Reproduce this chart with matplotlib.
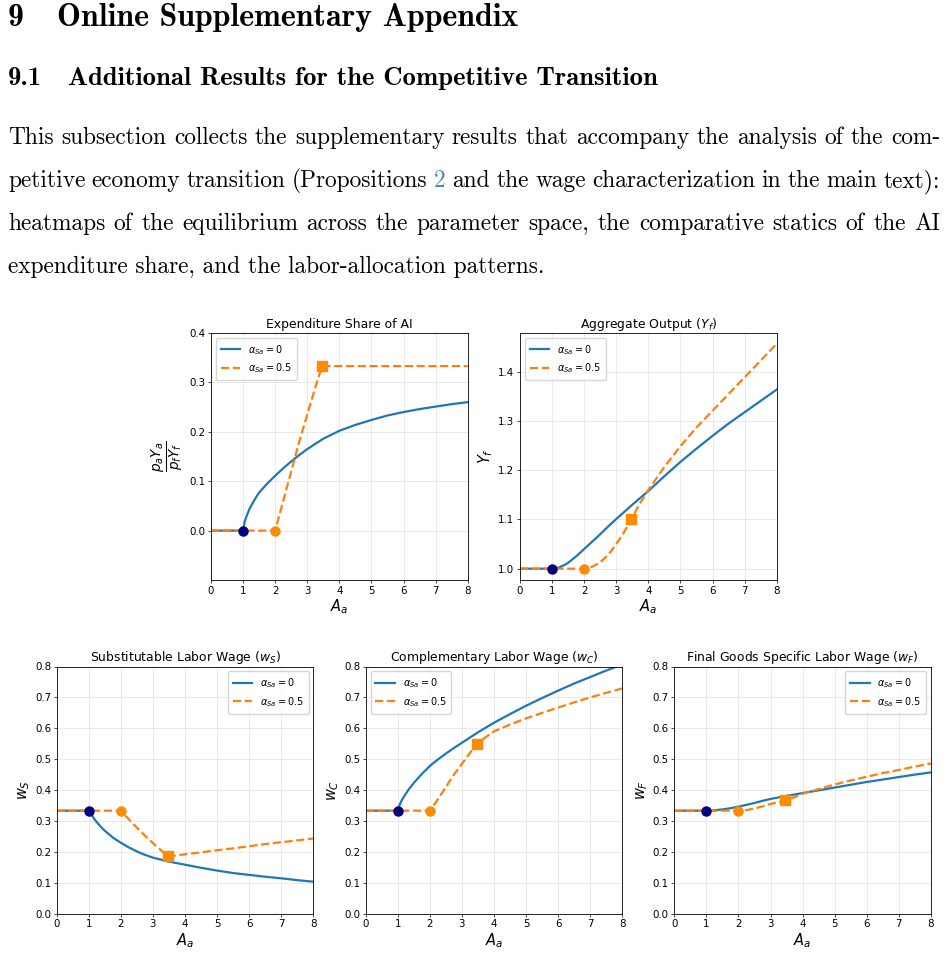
import matplotlib
matplotlib.use("Agg")
import matplotlib.pyplot as plt

# ---------------------------------------------------------------
# Data (A_a on the x axis)
# ---------------------------------------------------------------
A_0 = [0, 0.5, 1, 1.05, 1.1, 1.2, 1.3, 1.4, 1.5, 1.75, 2, 2.25, 2.5, 2.75, 3, 3.5, 4,
       4.5, 5, 5.5, 6, 6.5, 7, 7.5, 8]
A_5 = [0, 0.5, 1, 1.5, 2, 2.25, 2.5, 2.75, 3, 3.25, 3.46, 3.75, 4, 4.5, 5, 5.5, 6,
       6.5, 7, 7.5, 8]

# expenditure share of AI
share_0 = [0, 0, 0, 0.018, 0.028, 0.044, 0.056, 0.067, 0.077, 0.095, 0.111, 0.126,
           0.140, 0.153, 0.165, 0.186, 0.202, 0.214, 0.224, 0.233, 0.240, 0.246, 0.251,
           0.256, 0.260]
share_5 = [0, 0, 0, 0, 0, 0.06, 0.12, 0.18, 0.235, 0.29, 0.333, 0.333, 0.333, 0.333,
           0.333, 0.333, 0.333, 0.333, 0.333, 0.333, 0.333]

# aggregate output
yf_0 = [1.0, 1.0, 1.0, 1.0, 1.0005, 1.002, 1.005, 1.008, 1.012, 1.025, 1.04, 1.055,
        1.07, 1.086, 1.101, 1.13, 1.158, 1.188, 1.217, 1.244, 1.27, 1.295, 1.318,
        1.341, 1.364]
yf_5 = [1.0, 1.0, 1.0, 1.0, 1.0, 1.004, 1.013, 1.028, 1.05, 1.075, 1.10, 1.134, 1.16,
        1.207, 1.249, 1.287, 1.321, 1.355, 1.389, 1.423, 1.457]

# substitutable labor wage
ws_0 = [0.333, 0.333, 0.333, 0.325, 0.317, 0.302, 0.29, 0.278, 0.268, 0.246, 0.229,
        0.214, 0.201, 0.19, 0.181, 0.168, 0.158, 0.148, 0.139, 0.131, 0.125, 0.119,
        0.114, 0.108, 0.103]
ws_5 = [0.333, 0.333, 0.333, 0.333, 0.333, 0.305, 0.278, 0.252, 0.228, 0.205, 0.185,
        0.188, 0.192, 0.198, 0.205, 0.211, 0.218, 0.225, 0.231, 0.237, 0.243]

# complementary labor wage
wc_0 = [0.333, 0.333, 0.333, 0.35, 0.362, 0.38, 0.396, 0.41, 0.423, 0.452, 0.478,
        0.499, 0.518, 0.536, 0.553, 0.587, 0.618, 0.646, 0.673, 0.698, 0.722, 0.745,
        0.766, 0.787, 0.807]
wc_5 = [0.333, 0.333, 0.333, 0.333, 0.333, 0.37, 0.41, 0.45, 0.485, 0.52, 0.55, 0.572,
        0.59, 0.612, 0.632, 0.65, 0.667, 0.684, 0.70, 0.715, 0.729]

# final goods specific labor wage
wf_0 = [0.333, 0.333, 0.333, 0.333, 0.3335, 0.334, 0.335, 0.336, 0.337, 0.341, 0.346,
        0.352, 0.358, 0.365, 0.371, 0.381, 0.39, 0.399, 0.408, 0.417, 0.426, 0.434,
        0.442, 0.45, 0.457]
wf_5 = [0.333, 0.333, 0.333, 0.333, 0.333, 0.335, 0.34, 0.347, 0.355, 0.36, 0.366,
        0.377, 0.388, 0.403, 0.418, 0.431, 0.443, 0.455, 0.465, 0.476, 0.486]

# threshold points marked on the curves
A_bar_0 = 1
A_low_5 = 2
A_high_5 = 3.46

x_ticks = [0, 1, 2, 3, 4, 5, 6, 7, 8]
wage_ticks = [0.0, 0.1, 0.2, 0.3, 0.4, 0.5, 0.6, 0.7, 0.8]

# ---------------------------------------------------------------
# Page text
# ---------------------------------------------------------------
heading_1 = "Online Supplementary Appendix"
heading_2 = "Additional Results for the Competitive Transition"
para_lines = [
    "This subsection collects the supplementary results that accompany the analysis of the com-",
    "petitive economy transition (Propositions 2 and the wage characterization in the main text):",
    "heatmaps of the equilibrium across the parameter space, the comparative statics of the AI",
    "expenditure share, and the labor-allocation patterns.",
]

W, H = 947, 956
fig = plt.figure(figsize=(W / 100, H / 100), dpi=100)
rend = fig.canvas.get_renderer()

C_BLUE = "#1f77b4"
C_ORANGE = "#ff7f0e"
C_LINK = "#4a86b8"


def fy(px):                       # pixel row -> figure fraction
    return 1 - px / H


def text_width(s, family, size):
    t = fig.text(0, 0, s, fontsize=size, family=family)
    w = t.get_window_extent(rend).width
    t.remove()
    return w


def fit_size(s, family, target):
    return 10 * target / text_width(s, family, 10)


def justify(line, y, size, x0=8, x1=940):
    words = line.split(" ")
    texts = []
    for w in words:
        col = C_LINK if w == "2" else "black"
        texts.append(fig.text(0, fy(y), w, fontsize=size, family="cmr10",
                              color=col, va="baseline"))
    widths = [t.get_window_extent(rend).width for t in texts]
    gap = (x1 - x0 - sum(widths)) / (len(words) - 1)
    x = x0
    for t, w in zip(texts, widths):
        t.set_x(x / W)
        x += w + gap


# headings
s1 = fit_size(heading_1, "cmb10", 461)
fig.text(8 / W, fy(26), "9", fontsize=s1, family="cmb10", va="baseline")
fig.text(57 / W, fy(26), heading_1, fontsize=s1, family="cmb10", va="baseline")
s2 = fit_size(heading_2, "cmb10", 589)
fig.text(8 / W, fy(85), "9.1", fontsize=s2, family="cmb10", va="baseline")
fig.text(68 / W, fy(85), heading_2, fontsize=s2, family="cmb10", va="baseline")

# paragraph
sp = fit_size(para_lines[3], "cmr10", 539)
baselines = [144, 187, 230, 273]
for i, line in enumerate(para_lines):
    if i < 3:
        justify(line, baselines[i], sp)
    else:
        fig.text(8 / W, fy(baselines[i]), line, fontsize=sp, family="cmr10", va="baseline")


# ---------------------------------------------------------------
# Plots
# ---------------------------------------------------------------
def make_ax(left, top, width=256.7, height=247):
    return fig.add_axes([left / W, fy(top + height), width / W, height / H])


def panel(ax, y0, y5, title, ylabel, loc, ylab_size=10.5):
    ax.plot(A_0, y0, color=C_BLUE, lw=1.6, label=r"$\alpha_{Sa}=0$")
    ax.plot(A_5, y5, color=C_ORANGE, lw=1.6, ls="--", label=r"$\alpha_{Sa}=0.5$")
    ax.plot(A_bar_0, y0[A_0.index(A_bar_0)], "o", color="navy", ms=6.5, zorder=5)
    ax.plot(A_low_5, y5[A_5.index(A_low_5)], "o", color="darkorange", ms=6.5, zorder=5)
    ax.plot(A_high_5, y5[A_5.index(A_high_5)], "s", color="darkorange", ms=7, zorder=5)
    ax.set_xlim(0, 8)
    ax.set_xticks(x_ticks)
    ax.set_title(title, fontsize=8.9, pad=3.6)
    ax.set_xlabel(r"$A_a$", fontsize=10.5, labelpad=1.5)
    ax.set_ylabel(ylabel, fontsize=ylab_size, labelpad=2)
    ax.grid(True, alpha=0.3, lw=0.6)
    ax.tick_params(labelsize=7.4, length=2.1, width=0.5, pad=2)
    for sp_ in ax.spines.values():
        sp_.set_linewidth(0.6)
    ax.legend(loc=loc, fontsize=7, borderpad=0.5, labelspacing=0.5)


ax1 = make_ax(211, 333)
panel(ax1, share_0, share_5, "Expenditure Share of AI", r"$\frac{p_aY_a}{p_fY_f}$",
      "upper left", ylab_size=14)
ax1.set_ylim(-0.1, 0.4)
ax1.set_yticks([0.0, 0.1, 0.2, 0.3, 0.4])

ax2 = make_ax(520, 333)
panel(ax2, yf_0, yf_5, r"Aggregate Output ($Y_f$)", r"$Y_f$", "upper left")
ax2.set_ylim(0.977, 1.479)
ax2.set_yticks([1.0, 1.1, 1.2, 1.3, 1.4])

bottom = [
    (56.7, ws_0, ws_5, r"Substitutable Labor Wage ($w_S$)", r"$w_S$", "upper right"),
    (365.7, wc_0, wc_5, r"Complementary Labor Wage ($w_C$)", r"$w_C$", "upper left"),
    (674.3, wf_0, wf_5, r"Final Goods Specific Labor Wage ($w_F$)", r"$w_F$", "upper right"),
]
for left, y0, y5, title, ylab, loc in bottom:
    ax = make_ax(left, 666.5)
    panel(ax, y0, y5, title, ylab, loc)
    ax.set_ylim(0, 0.8)
    ax.set_yticks(wage_ticks)

fig.savefig("out.png", dpi=100)
